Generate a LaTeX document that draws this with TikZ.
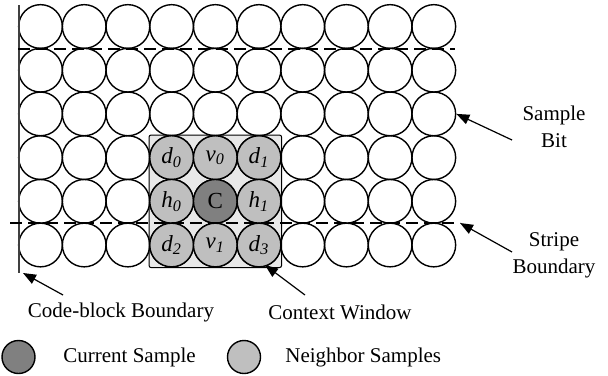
\documentclass[tikz,border=0pt]{standalone}
\usepackage{fontspec}
\setmainfont{Liberation Serif}
\usetikzlibrary{arrows.meta,backgrounds}

\newcommand{\smp}[2]{\textit{#1}\textsubscript{\textit{#2}}}

\tikzset{
    bit/.style={circle,draw,line width=0.7pt,minimum size=21.85pt,inner sep=0pt,
        font=\fontsize{11.5}{12}\selectfont},
    neighbor/.style={bit,fill=gray!50},
    current/.style={bit,fill=gray},
    window/.style={draw,fill=gray!18,line width=0.5pt,rounded corners=1pt},
    boundary/.style={line width=0.7pt,dash pattern=on 6pt off 3pt},
    pointer/.style={-{Triangle[length=6.5pt,width=5pt]},line width=0.6pt},
    caption/.style={font=\fontsize{10.5}{13.5}\selectfont,align=center,inner sep=0pt}
}

\begin{document}
\begin{tikzpicture}[x=0.5pt,y=-0.5pt]
    \useasboundingbox (0,0) rectangle (608,375);

    % Draw the sample grid
    \foreach \r in {0,...,5}
        \foreach \c in {0,...,9}
            \node[bit] (s-\r-\c) at ({40.5+43.7*\c},{26.5+43.7*\r}) {};

    % Context window
    \node[neighbor] (d0) at (s-3-3) {\smp{d}{0}};
    \node[neighbor] (v0) at (s-3-4) {\smp{v}{0}};
    \node[neighbor] (d1) at (s-3-5) {\smp{d}{1}};
    \node[neighbor] (h0) at (s-4-3) {\smp{h}{0}};
    \node[current]  (cur) at (s-4-4) {C};
    \node[neighbor] (h1) at (s-4-5) {\smp{h}{1}};
    \node[neighbor] (d2) at (s-5-3) {\smp{d}{2}};
    \node[neighbor] (v1) at (s-5-4) {\smp{v}{1}};
    \node[neighbor] (d3) at (s-5-5) {\smp{d}{3}};
    \begin{scope}[on background layer]
        \draw[window] (d0.west |- d0.north) rectangle (d3.east |- d3.south);
    \end{scope}

    % Boundaries
    \coordinate (cb-top) at (19,5);
    \coordinate (cb-bot) at (19,273);
    \draw[line width=0.9pt,black!75] (cb-top) -- (cb-bot);
    \coordinate (top-l) at (18,49);
    \coordinate (top-r) at (455,49);
    \draw[boundary] (top-l) -- (top-r);
    \coordinate (str-l) at (10,223);
    \coordinate (str-r) at (460,223);
    \draw[boundary] (str-l) -- (str-r);

    % Labels
    \node[caption] (lbl-bit) at (554,127) {Sample\\Bit};
    \node[caption] (lbl-stripe) at (554,255) {Stripe\\Boundary};
    \node[caption] (lbl-cb) at (121,312) {Code-block Boundary};
    \node[caption] (lbl-win) at (340,312) {Context Window};

    % Arrows
    \coordinate (t-bit) at (512,140);
    \coordinate (t-stripe) at (512,252);
    \coordinate (t-cb) at (63,295);
    \coordinate (t-win) at (305,295);
    \coordinate (h-win) at (265,265);
    \draw[pointer] (t-bit) -- (s-2-9.east);
    \draw[pointer] (t-stripe) -- (str-r);
    \draw[pointer] (t-cb) -- ([xshift=2]cb-bot);
    \draw[pointer] (t-win) -- (h-win);

    % Legend
    \node[current,minimum size=16.5pt] (leg-cur) at (18.5,357) {};
    \node[caption,anchor=west] (leg-cur-txt) at (63,357) {Current Sample};
    \node[neighbor,minimum size=16.5pt] (leg-nb) at (244,357) {};
    \node[caption,anchor=west] (leg-nb-txt) at (285,357) {Neighbor Samples};
\end{tikzpicture}
\end{document}
